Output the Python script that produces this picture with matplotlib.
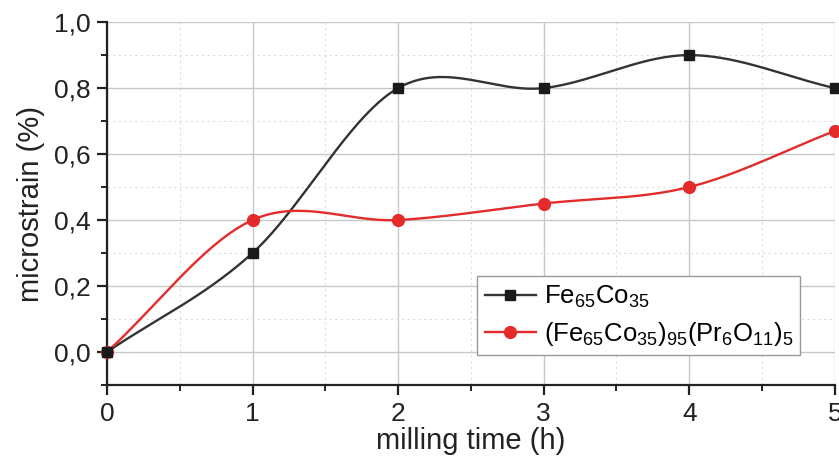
import numpy as np
import matplotlib
matplotlib.use("Agg")
import matplotlib.pyplot as plt
from matplotlib.ticker import MultipleLocator, FuncFormatter

plt.rcParams['font.family'] = ['Liberation Sans', 'DejaVu Sans']
plt.rcParams['mathtext.default'] = 'regular'

milling_time = [0, 1, 2, 3, 4, 5]
fe_co = [0.0, 0.3, 0.8, 0.8, 0.9, 0.8]
fe_co_pr = [0.0, 0.4, 0.4, 0.45, 0.5, 0.67]
label_fe_co = r'Fe$_{65}$Co$_{35}$'
label_fe_co_pr = r'(Fe$_{65}$Co$_{35}$)$_{95}$(Pr$_{6}$O$_{11}$)$_{5}$'


def smooth_curve(x, y, n=60):
    """Cubic Hermite (Catmull-Rom style) curve through the data points."""
    x = np.asarray(x, float)
    y = np.asarray(y, float)
    m = np.gradient(y, x)
    xs_all, ys_all = [], []
    for i in range(len(x) - 1):
        h = x[i + 1] - x[i]
        t = np.linspace(0, 1, n)
        h00 = 2 * t**3 - 3 * t**2 + 1
        h10 = t**3 - 2 * t**2 + t
        h01 = -2 * t**3 + 3 * t**2
        h11 = t**3 - t**2
        xs_all.append(x[i] + t * h)
        ys_all.append(h00 * y[i] + h10 * h * m[i] + h01 * y[i + 1] + h11 * h * m[i + 1])
    return np.concatenate(xs_all), np.concatenate(ys_all)


fig = plt.figure(figsize=(8.39, 4.61), dpi=100)
ax = fig.add_axes([0.1275, 0.165, 0.8675, 0.787])

black = '#333333'
red = '#e32b2b'

xs, ys = smooth_curve(milling_time, fe_co)
ax.plot(xs, ys, color=black, lw=1.7, zorder=3, clip_on=False)
xs2, ys2 = smooth_curve(milling_time, fe_co_pr)
ax.plot(xs2, ys2, color=red, lw=1.7, zorder=3, clip_on=False)
ax.plot(milling_time, fe_co_pr, 'o', color=red, ms=8.5, zorder=4, clip_on=False)
ax.plot(milling_time, fe_co, 's', color='#1a1a1a', ms=7.5, zorder=5, clip_on=False)

# legend handles
h1, = ax.plot([], [], color=black, lw=1.7, marker='s', ms=7.5, mfc='#1a1a1a', mec='#1a1a1a')
h2, = ax.plot([], [], color=red, lw=1.7, marker='o', ms=8.5, mfc=red, mec=red)
leg = ax.legend([h1, h2], [label_fe_co, label_fe_co_pr], loc='lower left',
                bbox_to_anchor=(0.509, 0.083), fontsize=18.5, frameon=True,
                fancybox=False, edgecolor='#999999', framealpha=1,
                handlelength=2.0, handletextpad=0.3, borderpad=0.28,
                labelspacing=0.38, borderaxespad=0)
leg.get_frame().set_linewidth(1.0)

ax.set_xlim(0, 5)
ax.set_ylim(-0.1, 1.0)
ax.xaxis.set_major_locator(MultipleLocator(1))
ax.xaxis.set_minor_locator(MultipleLocator(0.5))
ax.yaxis.set_major_locator(MultipleLocator(0.2))
ax.yaxis.set_minor_locator(MultipleLocator(0.1))
ax.yaxis.set_major_formatter(FuncFormatter(lambda v, p: f'{v:.1f}'.replace('.', ',').replace('-0,0', '0,0')))
ax.xaxis.set_major_formatter(FuncFormatter(lambda v, p: f'{v:.0f}'))

ax.grid(which='major', color='#c8c8c8', lw=1.0, ls='-')
ax.grid(which='minor', color='#dddddd', lw=0.8, ls=(0, (2, 3)))
ax.set_axisbelow(True)

for s in ['top', 'right']:
    ax.spines[s].set_visible(False)
for s in ['left', 'bottom']:
    ax.spines[s].set_linewidth(1.6)
    ax.spines[s].set_color('#222222')

ax.tick_params(which='major', direction='out', length=7, width=1.6, color='#222222',
               labelsize=19, pad=5, labelcolor='#222222')
ax.tick_params(which='minor', direction='out', length=4, width=1.4, color='#222222')

ax.set_xlabel('milling time (h)', fontsize=21, labelpad=1, color='#222222')
ax.set_ylabel('microstrain (%)', fontsize=21, labelpad=6, color='#222222')

fig.savefig('out.png', dpi=100, facecolor='white')
